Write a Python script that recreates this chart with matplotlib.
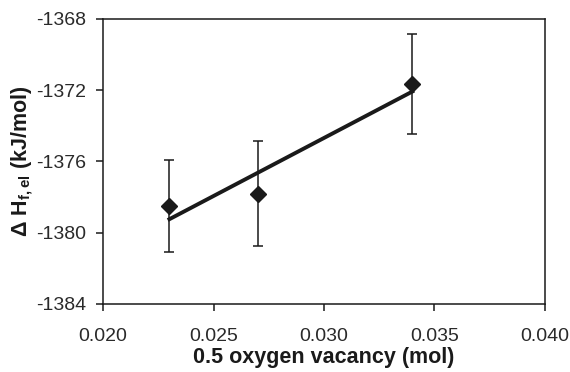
import numpy as np
import matplotlib
matplotlib.use('Agg')
import matplotlib.pyplot as plt

plt.rcParams['font.family'] = ['Liberation Sans', 'DejaVu Sans']
plt.rcParams['mathtext.fontset'] = 'custom'
plt.rcParams['mathtext.rm'] = 'Liberation Sans'
plt.rcParams['mathtext.bf'] = 'Liberation Sans:bold'

# data
vacancy = [0.023, 0.027, 0.034]
dH = [-1378.5, -1377.8, -1371.65]
dH_err = [2.6, 2.95, 2.8]

xticks = [0.020, 0.025, 0.030, 0.035, 0.040]
yticks = [-1384, -1380, -1376, -1372, -1368]

ink = '#1a1a1a'

fig = plt.figure(figsize=(5.7, 3.72), dpi=100)
ax = fig.add_axes([0.181, 0.183, 0.775, 0.766])

# linear trend line
k, b = np.polyfit(vacancy, dH, 1)
xs = np.array([min(vacancy), max(vacancy)])
ax.plot(xs, k * xs + b, color=ink, lw=2.8, zorder=2)

ax.errorbar(vacancy, dH, yerr=dH_err, fmt='D', color=ink, ms=8.5,
            ecolor=ink, elinewidth=1.1, capsize=3.8, capthick=1.1, zorder=3)

ax.set_xlim(0.020, 0.040)
ax.set_ylim(-1384, -1368)
ax.set_xticks(xticks)
ax.set_xticklabels(['%.3f' % t for t in xticks])
ax.set_yticks(yticks)
ax.set_yticklabels([str(t) for t in yticks])
ax.tick_params(direction='out', length=5, width=1.1, color=ink,
               labelsize=14, labelcolor='#2a2a2a')
ax.tick_params(axis='x', pad=12)
ax.tick_params(axis='y', pad=7)
for s in ax.spines.values():
    s.set_linewidth(1.1)
    s.set_color(ink)

ax.set_xlabel('0.5 oxygen vacancy (mol)', fontsize=15.5, fontweight='bold',
              color=ink, labelpad=2)
ax.set_ylabel(r'Δ H$_{\mathbf{f,el}}$ (kJ/mol)', fontsize=15.5,
              fontweight='bold', color=ink, labelpad=1)

fig.savefig('out.png', dpi=100)
